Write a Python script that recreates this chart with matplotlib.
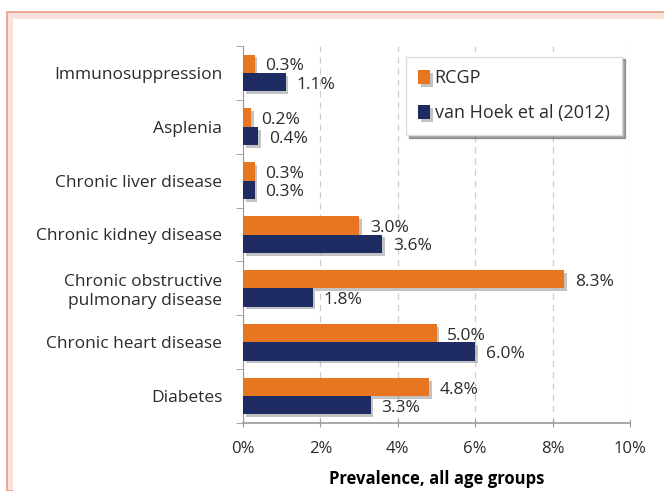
import matplotlib.pyplot as plt
import matplotlib.patheffects as pe
from matplotlib.patches import Rectangle
import numpy as np

# categories from top to bottom
categories = ["Immunosuppression", "Asplenia", "Chronic liver disease",
              "Chronic kidney disease", "Chronic obstructive\npulmonary disease",
              "Chronic heart disease", "Diabetes"]
rcgp = [0.3, 0.2, 0.3, 3.0, 8.3, 5.0, 4.8]
van_hoek = [1.1, 0.4, 0.3, 3.6, 1.8, 6.0, 3.3]
xticks = [0, 2, 4, 6, 8, 10]

orange = "#e8751f"
navy = "#1f2b63"
txt = "#2b2b2b"

plt.rcParams["font.family"] = ["Open Sans", "DejaVu Sans"]

fig = plt.figure(figsize=(6.64, 4.91), dpi=100)

# pinkish frame around the figure
fig.patches.append(Rectangle((7 / 664, 0), 1, 1 - 12 / 491, transform=fig.transFigure,
                             facecolor="#f7e3da", edgecolor="#e79a84", lw=1.2, zorder=-2))
fig.patches.append(Rectangle((13 / 664, 0), 1, 1 - 19 / 491, transform=fig.transFigure,
                             facecolor="white", edgecolor="none", zorder=-1))

ax = fig.add_axes([243 / 664, 68 / 491, 387 / 664, 377 / 491])
ax.set_facecolor("none")

y = np.arange(len(categories))[::-1].astype(float)
h = 0.34
shadow = [pe.SimplePatchShadow(offset=(2, -2), shadow_rgbFace="#888888", alpha=0.5), pe.Normal()]

b1 = ax.barh(y + h / 2, rcgp, height=h, color=orange, label="RCGP", zorder=3)
b2 = ax.barh(y - h / 2, van_hoek, height=h, color=navy, label="van Hoek et al (2012)", zorder=3)
for bar in list(b1) + list(b2):
    bar.set_path_effects(shadow)

for yy, v in zip(y, rcgp):
    ax.text(v + 0.28, yy + h / 2 - 0.05, f"{v:.1f}%", va="center", ha="left",
            fontsize=12.5, color=txt, zorder=4)
for yy, v in zip(y, van_hoek):
    ax.text(v + 0.28, yy - h / 2 - 0.05, f"{v:.1f}%", va="center", ha="left",
            fontsize=12.5, color=txt, zorder=4)

ax.set_xlim(0, 10)
ax.set_ylim(-0.5, len(categories) - 0.5)
ax.set_xticks(xticks)
ax.set_xticklabels([f"{t}%" for t in xticks], fontsize=12, color=txt)
ax.set_yticks(y)
ax.set_yticklabels(categories, fontsize=12.5, color=txt, linespacing=1.25)
ax.tick_params(axis="y", length=0, pad=15)
ax.set_yticks(np.arange(len(categories) + 1) - 0.5, minor=True)
ax.tick_params(axis="y", which="minor", length=5, color="#999999")
ax.tick_params(axis="x", length=6, direction="inout", color="#999999", pad=10)

ax.grid(axis="x", color="#cccccc", linestyle=(0, (5, 4)), lw=0.9, zorder=0)
for s in ["top", "right"]:
    ax.spines[s].set_visible(False)
ax.spines["left"].set_color("#999999")
ax.spines["bottom"].set_color("#999999")
ax.spines["bottom"].set_linewidth(1.2)

ax.set_xlabel("Prevalence, all age groups", fontsize=12, fontweight="bold",
              color="black", labelpad=9)

leg = ax.legend(loc="upper right", bbox_to_anchor=(1.003, 0.996), fontsize=13,
                handlelength=0.65, handleheight=0.85, handletextpad=0.25,
                labelspacing=0.95, borderpad=0.7, fancybox=False, shadow=True,
                edgecolor="#dddddd", framealpha=1)
for t in leg.get_texts():
    t.set_color(txt)

fig.savefig("out.png", dpi=100)
